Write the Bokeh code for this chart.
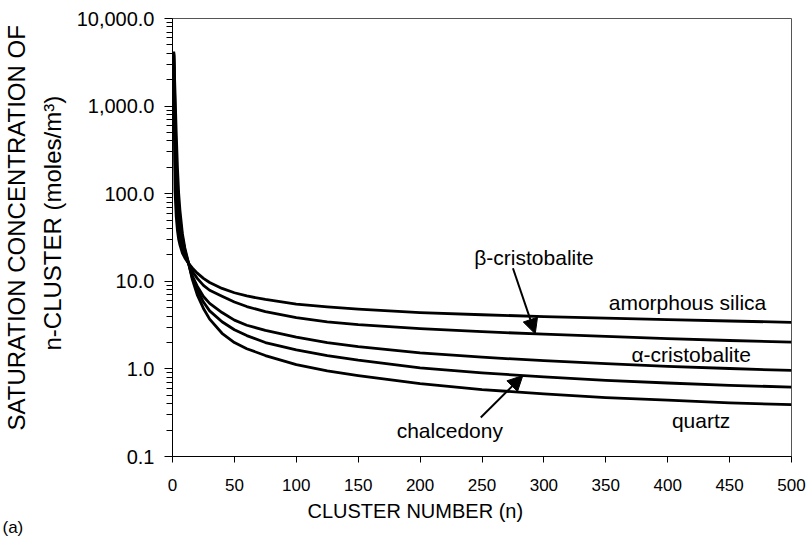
import numpy as np
from bokeh.plotting import figure
from bokeh.models import (FixedTicker, NumeralTickFormatter, Label, Arrow, NormalHead, Range1d, Title)
from bokeh.embed import file_html
from bokeh.resources import INLINE

# ---- data ----
cluster_n = [1, 2, 3, 4, 5, 6, 8, 10, 13, 16, 20, 25, 30, 40, 50, 60, 75, 100,
             125, 150, 200, 250, 300, 350, 400, 450, 500]
amorphous_silica = [3800, 110, 55, 38, 30, 26, 21, 18.5, 16, 14.2, 12.4, 10.8, 9.7, 8.3, 7.4,
                    6.8, 6.2, 5.5, 5.1, 4.8, 4.40, 4.15, 3.96, 3.80, 3.65, 3.52, 3.40]
beta_cristobalite = [3900, 250, 90, 55, 40, 33, 24, 19.5, 16, 13, 10.8, 9.0, 7.9, 6.75, 5.8,
                     5.15, 4.5, 3.85, 3.45, 3.2, 2.88, 2.66, 2.49, 2.35, 2.22, 2.11, 2.02]
alpha_cristobalite = [4000, 500, 150, 80, 55, 42, 28, 21, 16, 11.5, 8.8, 6.7, 5.6, 4.4, 3.6,
                      3.15, 2.75, 2.3, 2.0, 1.8, 1.52, 1.36, 1.24, 1.15, 1.07, 1.01, 0.96]
chalcedony = [4100, 900, 250, 120, 75, 52, 32, 22.5, 16, 11, 8.0, 5.8, 4.6, 3.45, 2.8,
              2.4, 2.0, 1.65, 1.42, 1.26, 1.03, 0.90, 0.81, 0.74, 0.69, 0.65, 0.62]
quartz = [4200, 1500, 500, 200, 100, 65, 35, 24, 16, 10.5, 7.0, 4.9, 3.7, 2.55, 2.0,
          1.7, 1.42, 1.12, 0.95, 0.84, 0.68, 0.58, 0.52, 0.47, 0.44, 0.41, 0.39]

x_ticks = [0, 50, 100, 150, 200, 250, 300, 350, 400, 450, 500]
y_ticks = [0.1, 1, 10, 100, 1000, 10000]
y_minor = [k * 10.0 ** d for d in range(-1, 4) for k in range(2, 10)]

FONT = "Liberation Sans"

p = figure(width=811, height=543, output_backend="svg", toolbar_location=None,
           x_axis_type="linear", y_axis_type="log",
           x_range=Range1d(0, 500), y_range=Range1d(0.1, 10000),
           min_border_left=172, min_border_right=20, min_border_top=18, min_border_bottom=87)
p.background_fill_color = "white"
p.border_fill_color = "white"
p.grid.visible = False
p.outline_line_color = "#555555"
p.outline_line_width = 1

for ys in [amorphous_silica, beta_cristobalite, alpha_cristobalite, chalcedony, quartz]:
    p.line(cluster_n, ys, line_color="black", line_width=2.8, line_join="round")

# axes
xa = p.xaxis[0]
xa.ticker = FixedTicker(ticks=x_ticks)
xa.major_tick_out = 6
xa.major_tick_in = 0
xa.minor_tick_out = 0
xa.minor_tick_in = 0
xa.major_label_standoff = 16
xa.major_label_text_font = FONT
xa.major_label_text_font_size = "17px"
xa.major_label_text_color = "black"
xa.axis_line_color = "black"
xa.major_tick_line_color = "black"

ya = p.yaxis[0]
ya.ticker = FixedTicker(ticks=y_ticks, minor_ticks=y_minor)
ya.formatter = NumeralTickFormatter(format="0,0.0")
ya.major_tick_out = 8
ya.major_tick_in = 0
ya.minor_tick_out = 6
ya.minor_tick_in = 0
ya.major_label_standoff = 10
ya.major_label_text_font = FONT
ya.major_label_text_font_size = "20px"
ya.major_label_text_color = "black"
ya.axis_line_color = "black"
ya.major_tick_line_color = "black"
ya.minor_tick_line_color = "black"

# axis titles
def side_title(text, where, size, offset, standoff, align="left"):
    t = Title(text=text, align=align, offset=offset, standoff=standoff,
              text_font=FONT, text_font_size=size, text_font_style="normal",
              text_color="black")
    p.add_layout(t, where)

side_title("n-CLUSTER  (moles/m³)", "left", "24px", 106, 16)
side_title("SATURATION CONCENTRATION OF", "left", "24px", 26, -2)
side_title("CLUSTER NUMBER (n)", "below", "20px", 135, 8)
side_title("(a)", "below", "17px", -170, -22)

# curve annotations
def lab(x, y, t):
    p.add_layout(Label(x=x, y=y, text=t, text_font=FONT, text_font_size="21px",
                       text_align="center", text_baseline="middle", text_color="black"))

lab(292, 18.8, "β-cristobalite")
lab(416, 5.75, "amorphous silica")
lab(419, 1.47, "α-cristobalite")
lab(427, 0.258, "quartz")
lab(224, 0.198, "chalcedony")

def on_curve(nv, ys):
    return 10 ** np.interp(nv, cluster_n, np.log10(ys))

head1 = NormalHead(size=15, fill_color="black", line_color="black", line_width=1)
p.add_layout(Arrow(end=head1, x_start=275, y_start=14.1, x_end=293,
                   y_end=on_curve(293, beta_cristobalite), line_color="black", line_width=2))
head2 = NormalHead(size=15, fill_color="black", line_color="black", line_width=1)
p.add_layout(Arrow(end=head2, x_start=249, y_start=0.279, x_end=283,
                   y_end=on_curve(283, chalcedony), line_color="black", line_width=2))

open("out.html", "w").write(file_html(p, INLINE))
